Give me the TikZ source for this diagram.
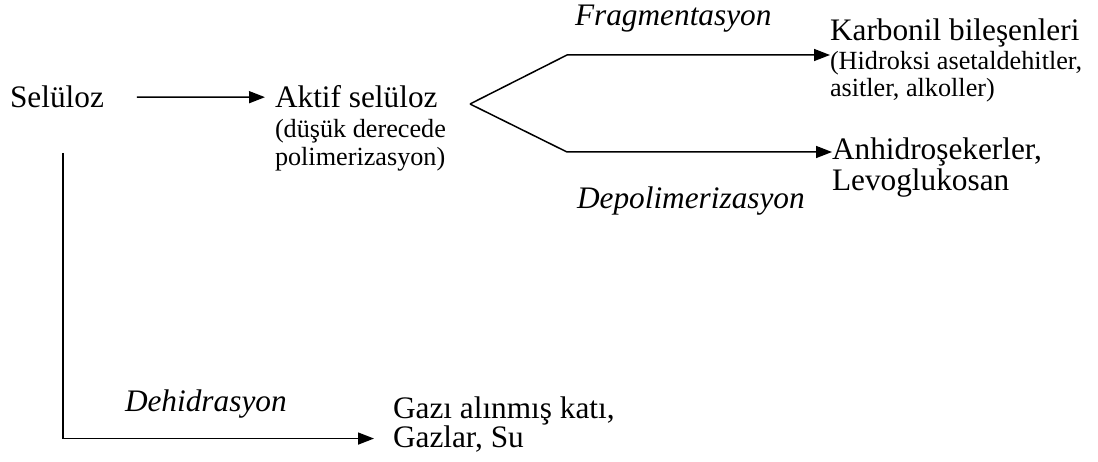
\documentclass[tikz,border=0pt]{standalone}
\usepackage{fontspec}
\setmainfont{Liberation Serif}
\usetikzlibrary{arrows.meta}
\tikzset{
  txt/.style={inner sep=0pt, outer sep=0pt, anchor=base west, font=\fontsize{31.3}{34}\selectfont},
  sml/.style={inner sep=0pt, outer sep=0pt, anchor=base west, font=\fontsize{26.2}{28}\selectfont},
  lab/.style={inner sep=0pt, outer sep=0pt, anchor=base west, font=\fontsize{31.3}{34}\selectfont\itshape},
  con/.style={line width=1.5pt},
  arr/.style={con, -{Triangle[length=16pt,width=12pt]}}
}
\begin{document}
\begin{tikzpicture}[x=1pt,y=-1pt]
\useasboundingbox (0,0) rectangle (1098,462);
% texts
\node[txt] (sel) at (10,108) {Selüloz};
\node[txt] (akt) at (275,108) {Aktif selüloz};
\node[sml] (akt2) at (275,138) {(düşük derecede};
\node[sml] (akt3) at (275,166) {polimerizasyon)};
\node[lab] (frag) at (575,26) {Fragmentasyon};
\node[txt] (karb) at (830,41) {Karbonil bileşenleri};
\node[sml] (hid) at (830,70) {(Hidroksi asetaldehitler,};
\node[sml] (asit) at (830,97) {asitler, alkoller)};
\node[txt] (anh) at (832,160) {Anhidroşekerler,};
\node[txt] (levo) at (832,191) {Levoglukosan};
\node[lab] (depol) at (577,209) {Depolimerizasyon};
\node[lab] (dehid) at (125,411) {Dehidrasyon};
\node[txt] (gazi) at (393,418) {Gazı alınmış katı,};
\node[txt] (gazlar) at (393,447) {Gazlar, Su};
% coordinates
\coordinate (fv) at (470,104);
\coordinate (fu) at (567,55);
\coordinate (fd) at (567,152);
\coordinate (dv) at (63,153);
% connectors
\draw[arr, shorten <=33pt, shorten >=10pt] (sel) -- (akt);
\draw[arr] (fv) -- (fu) -- (fu -| hid.west);
\draw[arr] (fv) -- (fd) -- (fd -| anh.west);
\draw[arr, shorten >=19pt] (dv) |- (gazlar.west);
\end{tikzpicture}
\end{document}
